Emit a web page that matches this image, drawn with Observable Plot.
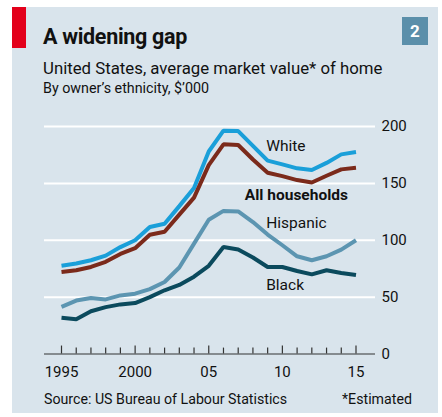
<!DOCTYPE html>
<html>
<head>
<meta charset="utf-8">
<script src="https://cdn.jsdelivr.net/npm/d3@7"></script>
<script src="https://cdn.jsdelivr.net/npm/@observablehq/plot@0.6"></script>
<style>
  html, body { margin: 0; padding: 0; background: #fff; }
  body { width: 442px; height: 417px; position: relative; overflow: hidden; font-family: Roboto, "Open Sans", sans-serif; color: #111; }
  #panel { position: absolute; left: 12px; top: 7px; width: 426px; height: 406px; background: #d9e4ec; }
  #tag { position: absolute; left: 12px; top: 7px; width: 14px; height: 41px; background: #e3001b; }
  #num { position: absolute; left: 402px; top: 17px; width: 26px; height: 28px; background: #5b8faa; color: #fff; font-weight: 700; font-size: 17px; line-height: 28px; text-align: center; }
  .txt { position: absolute; left: 43px; white-space: nowrap; }
  #title { top: 24px; font-size: 21.5px; font-weight: 700; letter-spacing: -0.3px; }
  #sub1 { top: 58px; font-size: 16.8px; }
  #sub2 { top: 80px; font-size: 14.3px; }
  #chart { position: absolute; left: 0; top: 110px; }
  #source { top: 391px; left: 44px; font-size: 14.2px; }
  #note { top: 391px; left: 342px; font-size: 14.2px; }
</style>
</head>
<body>
<div id="panel"></div>
<div id="tag"></div>
<div id="num">2</div>
<div class="txt" id="title">A widening gap</div>
<div class="txt" id="sub1">United States, average market value* of home</div>
<div class="txt" id="sub2">By owner’s ethnicity, $’000</div>
<div id="chart"></div>
<div class="txt" id="source">Source: US Bureau of Labour Statistics</div>
<div class="txt" id="note">*Estimated</div>
<script>
// Average market value of home, $'000, by owner's ethnicity
const years = [1995, 1996, 1997, 1998, 1999, 2000, 2001, 2002, 2003, 2004, 2005,
               2006, 2007, 2008, 2009, 2010, 2011, 2012, 2013, 2014, 2015];
const white = [77.5, 79.5, 82.4, 86.5, 94, 100, 111.7, 114.5, 130, 146, 178,
               196.3, 196, 183, 170, 166.7, 163.2, 161.7, 168, 175.5, 177.5];
const allHouseholds = [72, 73.6, 76.5, 81, 88, 93, 104.8, 107.5, 122.5, 137.5, 166,
                       184.3, 183.7, 171, 159.3, 156.4, 152.9, 150.8, 156.7, 162.3, 163.7];
const hispanic = [41.5, 47, 49.3, 48, 51.5, 53, 57, 63.3, 76, 97, 118,
                  125.8, 125.3, 116, 105, 95.6, 85.9, 82.4, 85.9, 91.8, 100];
const black = [31.9, 30.6, 37.6, 41.2, 43.6, 44.8, 50, 56, 60.7, 68, 77.5,
               94, 91.8, 84.8, 76.5, 76.5, 73, 70, 73.6, 71.2, 69.4];

const seriesNames = ["White", "All households", "Hispanic", "Black"];
const seriesValues = [white, allHouseholds, hispanic, black];
const seriesColors = ["#1a9fd9", "#7b2a1b", "#5c95b1", "#0b4a5d"];

const yTicks = [0, 50, 100, 150, 200];
const xMajor = [1995, 2000, 2005, 2010, 2015];
const xTickLabels = ["1995", "2000", "05", "10", "15"];

const rows = seriesNames.flatMap((name, i) =>
  years.map((year, j) => ({series: name, year, value: seriesValues[i][j]})));

// Label anchors in data space, one per series
const labels = [
  {series: "White", year: 2008.9, value: 183},
  {series: "All households", year: 2007.45, value: 139.5},
  {series: "Hispanic", year: 2008.9, value: 115.5},
  {series: "Black", year: 2008.9, value: 60.5}
];

const colorOf = name => seriesColors[seriesNames.indexOf(name)];
const fmtYear = d => xTickLabels[xMajor.indexOf(d)];

const plot = Plot.plot({
  width: 442,
  height: 285,
  marginLeft: 44,
  marginRight: 67,
  marginTop: 16,
  marginBottom: 41.5,
  insetLeft: 17,
  insetRight: 19.5,
  style: {background: "transparent", fontFamily: "Roboto, sans-serif", color: "#111"},
  x: {domain: [1995, 2015]},
  y: {domain: [0, 200]},
  marks: [
    // white gridlines
    Plot.ruleY(yTicks.filter(d => d > 0), {stroke: "#fff", strokeWidth: 2}),
    // y labels on the right
    Plot.axisY(yTicks, {anchor: "right", tickSize: 0, tickPadding: 6, fontSize: 15, textAnchor: "start", label: null}),
    // baseline
    Plot.ruleY([0], {stroke: "#333", strokeWidth: 1.2}),
    // year ticks pointing up from the baseline
    Plot.ruleX(years, {x: d => d, y1: 0, y2: d => xMajor.includes(d) ? 7 : 5.2, stroke: "#333", strokeWidth: 1.2}),
    Plot.axisX(xMajor, {tickSize: 0, tickPadding: 12, fontSize: 15, tickFormat: fmtYear, label: null}),
    // the four series
    Plot.line(rows, {x: "year", y: "value", z: "series", stroke: d => colorOf(d.series), strokeWidth: 4, strokeLinejoin: "miter", strokeLinecap: "butt"}),
    Plot.text(labels.filter(d => d.series !== "All households"), {x: "year", y: "value", text: "series", textAnchor: "start", fontSize: 15.5, fill: "#111"}),
    Plot.text(labels.filter(d => d.series === "All households"), {x: "year", y: "value", text: "series", textAnchor: "start", fontSize: 15.5, fontWeight: 700, fill: "#111", letterSpacing: -0.3})
  ]
});
document.getElementById("chart").appendChild(plot);
</script>
</body>
</html>
